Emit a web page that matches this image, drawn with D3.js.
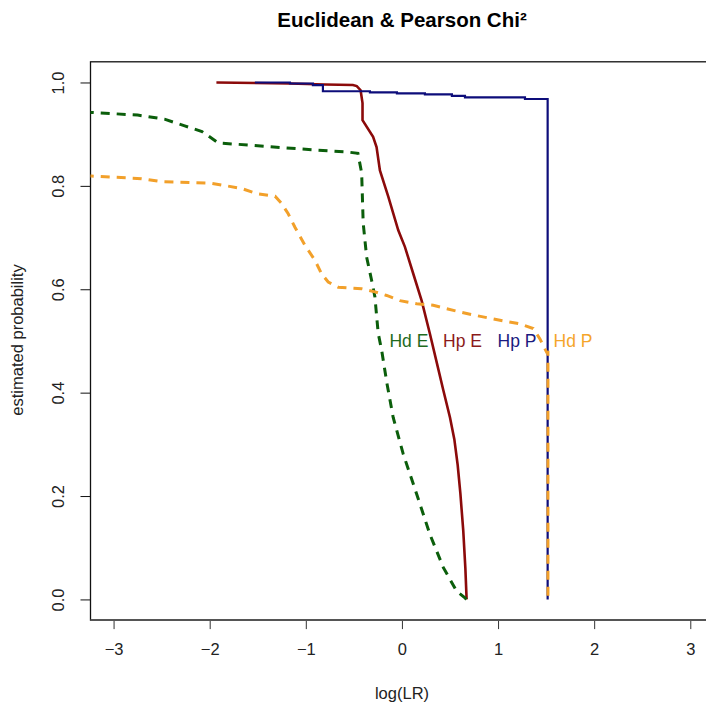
<!DOCTYPE html>
<html>
<head>
<meta charset="utf-8">
<script src="https://cdn.jsdelivr.net/npm/d3@7"></script>
<style>
  body { margin: 0; background: #fff; }
  svg text { font-family: "Liberation Sans", Arial, sans-serif; }
</style>
</head>
<body>
<div id="chart"></div>
<script>
// tick values
const xTicks = [-3, -2, -1, 0, 1, 2, 3];
const yTicks = [0, 0.2, 0.4, 0.6, 0.8, 1.0];

// curves, [log(LR), estimated probability]
const hpE = [
    [-1.93, 1.0], [-1.17, 0.998], [-0.8, 0.996], [-0.51, 0.995], [-0.47, 0.993],
    [-0.43, 0.985], [-0.41, 0.96], [-0.41, 0.927], [-0.30, 0.895], [-0.264, 0.875],
    [-0.229, 0.83], [-0.142, 0.779], [-0.038, 0.714], [0.031, 0.682], [0.118, 0.630],
    [0.205, 0.578], [0.291, 0.514], [0.36, 0.46], [0.43, 0.405], [0.5, 0.352],
    [0.545, 0.31], [0.58, 0.26], [0.608, 0.205], [0.638, 0.133], [0.66, 0.06],
    [0.673, 0.0]
];
const hdE = [
    [-3.3, 0.942], [-3.23, 0.942], [-2.75, 0.937], [-2.47, 0.929], [-2.26, 0.916],
    [-2.08, 0.905], [-1.91, 0.883], [-1.6, 0.879], [-1.39, 0.876], [-0.87, 0.869],
    [-0.59, 0.866], [-0.458, 0.863], [-0.419, 0.825], [-0.403, 0.728], [-0.367, 0.662],
    [-0.315, 0.617], [-0.281, 0.585], [-0.247, 0.515], [-0.211, 0.482], [-0.156, 0.418],
    [-0.091, 0.352], [0.014, 0.281], [0.153, 0.204], [0.291, 0.126], [0.43, 0.062],
    [0.569, 0.016], [0.656, 0.003], [0.67, 0.0]
];
const hpP = [
    [-1.53, 1.0], [-1.165, 0.998], [-0.926, 0.995], [-0.822, 0.983], [-0.333, 0.981],
    [-0.052, 0.979], [0.239, 0.977], [0.52, 0.974], [0.656, 0.971], [1.28, 0.968],
    [1.516, 0.0]
];
const hdP = [
    [-3.3, 0.819], [-3.23, 0.819], [-2.709, 0.814], [-2.50, 0.808], [-1.98, 0.805],
    [-1.668, 0.795], [-1.512, 0.785], [-1.32, 0.78], [-1.252, 0.766], [-1.183, 0.746],
    [-1.113, 0.72], [-1.009, 0.685], [-0.905, 0.656], [-0.836, 0.630], [-0.767, 0.614],
    [-0.663, 0.604], [-0.419, 0.601], [-0.281, 0.595], [-0.159, 0.588], [-0.021, 0.578],
    [0.153, 0.572], [0.326, 0.569], [0.604, 0.556], [0.777, 0.549], [1.02, 0.540],
    [1.228, 0.533], [1.366, 0.524], [1.436, 0.504], [1.506, 0.478], [1.519, 0.478],
    [1.519, 0.0]
];

// text labels placed in the plot at y = 0.5
const labelNames = ['Hd E', 'Hp E', 'Hp P', 'Hd P'];
const labelX = [0.073, 0.63, 1.197, 1.78];
const labelColors = ['#1e6b1e', '#8b1a1a', '#1a1a80', '#f5a52a'];

let margin = { top: 62, left: 90.5, right: 0, bottom: 89 },
    totalW = 706,
    totalH = 709;

let svg = d3.select('#chart')
    .append('svg')
    .attr('width', totalW)
    .attr('height', totalH);

// the plot region runs past the right edge of the picture
let xScale = d3.scaleLinear()
    .domain([-3.24, 3.4])
    .range([margin.left, 402 + 3.4 * 96.1]);

let yScale = d3.scaleLinear()
    .domain([-0.04, 1.04])
    .range([totalH - margin.bottom + 0.1, margin.top - 0.2]);

let x0 = xScale.range()[0], x1 = xScale.range()[1],
    yb = yScale.range()[0], yt = yScale.range()[1];

svg.append('clipPath')
    .attr('id', 'plotClip')
    .append('rect')
    .attr('x', x0)
    .attr('y', yt)
    .attr('width', x1 - x0)
    .attr('height', yb - yt);

// Title
svg.append('text')
    .attr('x', 402)
    .attr('y', 27)
    .attr('text-anchor', 'middle')
    .style('font-size', '20.5px')
    .style('font-weight', 'bold')
    .text('Euclidean & Pearson Chi²');

// X axis
let xAxis = svg.append('g')
    .attr('transform', 'translate(0,' + yb + ')')
    .call(d3.axisBottom(xScale).tickValues(xTicks).tickSize(9).tickPadding(14).tickFormat(d3.format('d')));
xAxis.select('.domain').remove();
xAxis.selectAll('text').style('font-size', '16.5px').attr('fill', '#222');
xAxis.selectAll('line').attr('stroke', '#333');

svg.append('text')
    .attr('x', 402)
    .attr('y', 699)
    .attr('text-anchor', 'middle')
    .style('font-size', '16.5px')
    .attr('fill', '#222')
    .text('log(LR)');

// Y axis, labels parallel to the axis as in R
let yAxis = svg.append('g')
    .attr('transform', 'translate(' + x0 + ',0)')
    .call(d3.axisLeft(yScale).tickValues(yTicks).tickSize(10).tickFormat(d3.format('.1f')));
yAxis.select('.domain').remove();
yAxis.selectAll('line').attr('stroke', '#111');
yAxis.selectAll('text')
    .attr('x', 0)
    .attr('dy', 0)
    .attr('text-anchor', 'middle')
    .attr('transform', 'translate(-27,0) rotate(-90)')
    .style('font-size', '16.5px')
    .attr('fill', '#222');

svg.append('text')
    .attr('transform', 'translate(23,340) rotate(-90)')
    .attr('text-anchor', 'middle')
    .style('font-size', '16.5px')
    .attr('fill', '#222')
    .text('estimated probability');

// Box
svg.append('rect')
    .attr('x', x0)
    .attr('y', yt)
    .attr('width', x1 - x0)
    .attr('height', yb - yt)
    .attr('fill', 'none')
    .attr('stroke', '#111')
    .attr('stroke-width', 1.3);
svg.append('line')
    .attr('x1', x0).attr('x2', totalW)
    .attr('y1', yb).attr('y2', yb)
    .attr('stroke', '#555')
    .attr('stroke-width', 2);

// Curves
let plot = svg.append('g').attr('clip-path', 'url(#plotClip)');

let line = d3.line()
    .x(d => xScale(d[0]))
    .y(d => yScale(d[1]));

let stepLine = d3.line()
    .curve(d3.curveStepAfter)
    .x(d => xScale(d[0]))
    .y(d => yScale(d[1]));

plot.append('path')
    .datum(hpE)
    .attr('d', line)
    .attr('fill', 'none')
    .attr('stroke', '#8b0a0a')
    .attr('stroke-width', 2.6);

plot.append('path')
    .datum(hdE)
    .attr('d', line)
    .attr('fill', 'none')
    .attr('stroke', '#0b5e0b')
    .attr('stroke-width', 3)
    .attr('stroke-dasharray', '9,7');

plot.append('path')
    .datum(hpP)
    .attr('d', stepLine)
    .attr('fill', 'none')
    .attr('stroke', '#0d0d7a')
    .attr('stroke-width', 2.2);

plot.append('path')
    .datum(hdP)
    .attr('d', line)
    .attr('fill', 'none')
    .attr('stroke', '#f2a02a')
    .attr('stroke-width', 3)
    .attr('stroke-dasharray', '9,7');

// Labels
plot.selectAll('.seriesLabel')
    .data(labelNames)
    .enter()
    .append('text')
    .attr('class', 'seriesLabel')
    .attr('x', (d, i) => xScale(labelX[i]))
    .attr('y', yScale(0.5))
    .attr('dy', '0.36em')
    .attr('text-anchor', 'middle')
    .style('font-size', '17.5px')
    .attr('fill', (d, i) => labelColors[i])
    .text(d => d);
</script>
</body>
</html>
